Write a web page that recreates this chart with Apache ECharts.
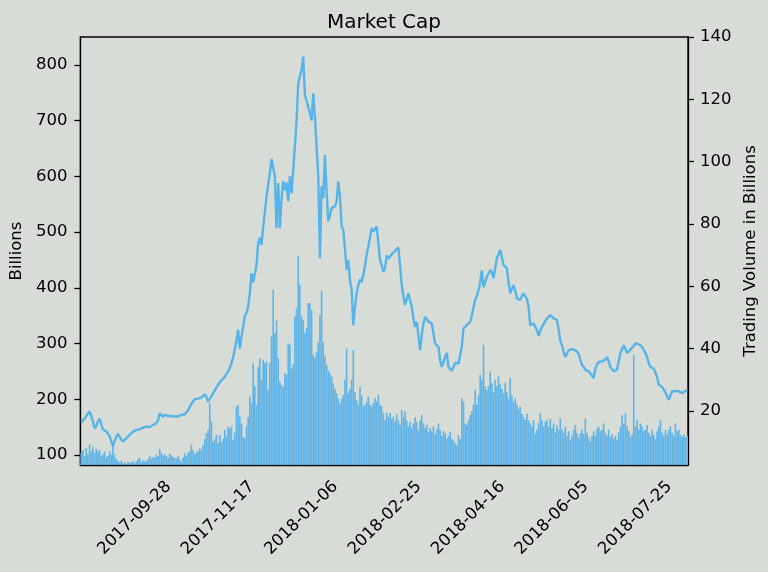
<!DOCTYPE html>
<html><head><meta charset="utf-8">
<script src="https://cdn.jsdelivr.net/npm/echarts@6/dist/echarts.min.js"></script>
<style>html,body{margin:0;padding:0;background:#d8dcd6}#c{width:768px;height:572px}</style>
</head><body><div id="c"></div>
<script>
// first day of the daily series (UTC)
const startDate = '2017-08-27';
const tickLabels = ['2017-09-28','2017-11-17','2018-01-06','2018-02-25','2018-04-16','2018-06-05','2018-07-25'];
const leftTicks = [100,200,300,400,500,600,700,800];
const rightTicks = [20,40,60,80,100,120,140];

// total market cap, billions (daily)
const marketCap = [
158,161,165,170,174,178,170,160,148,152,
160,165,155,146,143,142,139,134,125,116,
125,133,138,136,128,124,126,130,133,136,
139,142,143,145,147,146,148,149,150,151,
149,150,152,154,155,157,162,175,173,168,
172,174,170,168,170,172,169,167,169,170,
172,171,173,176,180,186,192,196,200,198,
201,200,203,205,209,204,196,198,205,211,
216,221,226,230,234,236,240,246,250,256,
265,275,290,305,325,291,312,330,349,355,
366,390,426,410,408,440,480,490,477,510,
535,564,585,605,631,628,600,507,588,507,
560,591,575,589,555,600,570,612,609,698,
767,770,791,815,746,743,725,713,700,749,
707,710,600,453,582,561,638,573,519,530,
543,540,546,555,591,564,510,504,470,432,
450,414,396,333,365,390,405,415,410,423,
440,460,474,490,507,501,498,510,480,450,
440,429,435,458,452,456,460,462,466,465,
472,440,405,385,369,380,390,378,366,345,
330,339,315,288,315,336,348,345,339,340,
336,318,300,298,294,270,258,267,275,283,
258,255,251,258,265,262,264,267,295,327,
325,333,335,339,350,365,378,385,396,410,
431,401,410,420,425,432,428,417,435,453,
460,468,455,441,438,435,410,390,398,405,
395,381,380,378,385,390,393,380,366,333,
335,336,330,324,314,322,330,335,340,345,
348,351,350,345,343,342,325,305,297,285,
276,282,288,289,290,291,288,285,282,270,
262,258,253,252,250,246,242,238,255,262,
267,270,268,270,271,276,268,258,254,250,
252,253,268,283,290,297,290,283,286,289,
292,296,300,301,299,297,294,288,283,275,
265,258,256,255,253,240,226,224,222,220,
212,205,199,207,214,213,215,217,214,212,
211,213,215,217
];

// trading volume, billions (daily)
const volume = [
6.5,7.5,5.5,8,6,9.3,7,8.5,6.5,7.8,
6.9,7.5,5.5,6,7,5,5.5,7,6,9.6,
6,4.5,4,3.5,4,3.2,3.5,3,3.8,3.3,
3.5,4,3.2,3.8,4.5,5,3.5,4.2,3.8,4,
4.5,5.5,4.8,5.2,5,6,5.5,7.8,6.5,5.8,
6,5.5,5,6.2,5.8,5.3,5,4.8,5.5,4.5,
3.7,5,6.4,5.5,6.5,7,9.1,7.5,6,6.9,
7,8,7.5,9,11,12.8,14,22.5,16.6,10.1,
11,12.3,9.6,12.3,10.1,11,13.9,12,15,14.4,
15,10.7,13,21.4,21.9,18.2,16,11.7,11.2,15,
18,24.6,22.5,35.3,28,21.9,34.2,36.9,30,36.4,
35.3,35.8,26.7,35.3,43.9,58.9,45,49,36.9,29.4,
28.3,27.8,32,31.6,41.7,41.2,33.7,34.9,50.3,52.9,
69.8,60.5,50.3,49.2,45,46.6,54.6,54.6,52.4,38,
37,39,42,50.8,58.6,42,37.4,34.8,33,32,
31,28.9,27,25.7,24,22.5,24,25.1,30,40,
25.7,27,30,39.6,26,23.5,22,27.8,25,21.5,
22,23,24.6,22,21.4,22.5,24,23,25.1,22,
21.4,19.3,17,19.5,18,19.3,17.5,18.2,16.5,19,
17,15.5,20.3,18,19.8,17,15,16.6,14.5,16,
18,16.5,14,17,18.7,16,14.5,15.5,13,14.5,
13.5,15,12.5,14,16,14,12,13.5,12.8,11,
12,13.3,11,10.5,9.6,9,12.3,11,24,23,
16,15.5,17,18.7,20,22,26.7,22,25,31.6,
30,41.2,28,26.7,28,32.6,29,26,30,28,
31,28.5,27,25.7,29,26,24,30.5,25,23,
24,22,20.5,21.4,19,18,17.1,19,17,16,
15,17,12.8,14,16,19.3,17,15,16.5,17.1,
15,17.5,14.5,16,13,15.5,14,17.6,14,13,
15,12,13.5,10.7,12,14,15.5,13,11.5,12.8,
14,12.5,17.6,13,11.5,10.1,12,13.5,12,14.4,
15,13.5,14,16,13,12,14,11.7,12.5,11,
12,10.7,13,15,18.7,16,19.3,15,13.5,11.7,
12.5,38,15,17.1,14,16,15,13.5,14,15.5,
13,12,14,12.3,11,13.5,15,17.1,13,12,
13.9,12.5,14,15,13,12,16,13.5,14,12.3,
11.7,12.5,11.5,12
];

const dates = [];
const t0 = Date.parse(startDate + 'T00:00:00Z');
for (let i = 0; i < marketCap.length; i++) {
  dates.push(new Date(t0 + i * 86400000).toISOString().slice(0, 10));
}

const font = 'DejaVu Sans';
const lineColor = '#56B4E9';
const barColor = '#62B4E6';
const isTick = (i, v) => tickLabels.indexOf(v) >= 0;
const txt = {fontFamily: font, fontSize: 16.5, color: '#000'};

const chart = echarts.init(document.getElementById('c'));
chart.setOption({
  backgroundColor: '#d8dcd6',
  animation: false,
  title: {
    text: 'Market Cap', left: 'center', top: 8,
    textStyle: {fontFamily: font, fontSize: 20, fontWeight: 'normal', color: '#000'}
  },
  grid: {left: 80, right: 80, top: 37, bottom: 107, show: true, borderColor: '#000', borderWidth: 1.3, backgroundColor: 'transparent'},
  xAxis: {
    type: 'category', data: dates, boundaryGap: true,
    axisLine: {lineStyle: {color: '#000', width: 1.3}},
    axisTick: {alignWithLabel: true, interval: isTick, length: 6, lineStyle: {color: '#000', width: 1.3}},
    axisLabel: Object.assign({interval: isTick, rotate: 45, align: 'center', verticalAlign: 'middle', margin: 53}, txt),
    splitLine: {show: false}
  },
  yAxis: [
    {
      type: 'value', min: 82, max: 850, position: 'left',
      name: 'Billions', nameLocation: 'middle', nameGap: 44, nameRotate: 90,
      nameTextStyle: txt,
      axisLine: {show: true, lineStyle: {color: '#000', width: 1.3}},
      axisTick: {show: true, length: 6, customValues: leftTicks, lineStyle: {color: '#000', width: 1.3}},
      axisLabel: Object.assign({customValues: leftTicks, margin: 13}, txt),
      splitLine: {show: false}
    },
    {
      type: 'value', min: 2.65, max: 140, position: 'right',
      name: 'Trading Volume in Billions', nameLocation: 'middle', nameGap: 47, nameRotate: 90,
      nameTextStyle: txt,
      axisLine: {show: true, lineStyle: {color: '#000', width: 1.3}},
      axisTick: {show: true, length: 6, customValues: rightTicks, lineStyle: {color: '#000', width: 1.3}},
      axisLabel: Object.assign({customValues: rightTicks, margin: 12}, txt),
      splitLine: {show: false}
    }
  ],
  series: [
    {type: 'bar', yAxisIndex: 1, data: volume, barWidth: '100%', itemStyle: {color: barColor}, z: 1},
    {type: 'line', yAxisIndex: 0, data: marketCap, showSymbol: false, symbol: 'none', lineStyle: {color: lineColor, width: 2.4}, z: 3}
  ]
});
</script></body></html>
